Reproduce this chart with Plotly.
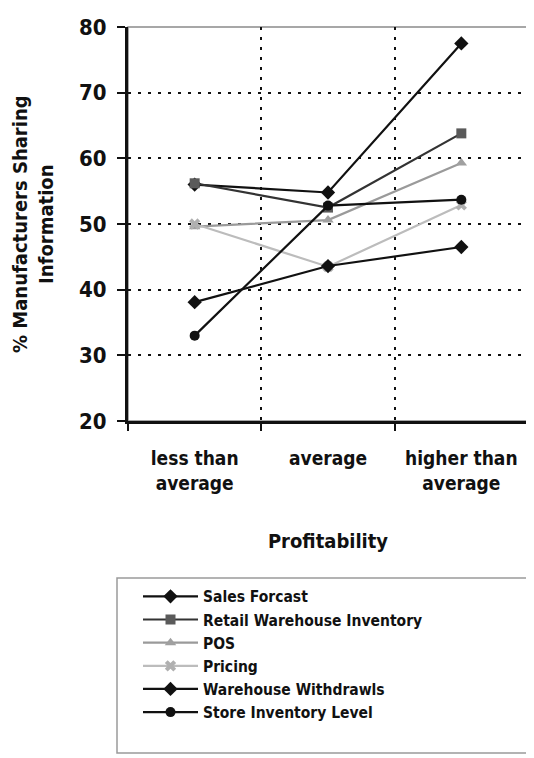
import plotly.graph_objects as go

# -----------------------------------
# Data
# -----------------------------------
categories = ["less than<br>average", "average", "higher than<br>average"]

sales_forcast = [56.0, 54.8, 77.5]
retail_warehouse = [56.2, 52.5, 63.8]
pos = [49.6, 50.6, 59.3]
pricing = [50.0, 43.5, 52.9]
warehouse_withdrawls = [38.1, 43.6, 46.5]
store_inventory = [33.0, 52.8, 53.7]

y_ticks = [20, 30, 40, 50, 60, 70, 80]

COND = "DejaVu Sans Condensed, DejaVu Sans, sans-serif"
INK = "#111111"

series = [
    ("Sales Forcast", sales_forcast, "diamond", "#111111", "#111111", 11),
    ("Retail Warehouse Inventory", retail_warehouse, "square", "#333333", "#5a5a5a", 10),
    ("POS", pos, "triangle-up", "#9a9a9a", "#a0a0a0", 10),
    ("Pricing", pricing, "x", "#bcbcbc", "#b0b0b0", 10),
    ("Warehouse Withdrawls", warehouse_withdrawls, "diamond", "#111111", "#111111", 11),
    ("Store Inventory Level", store_inventory, "circle", "#111111", "#111111", 10),
]

fig = go.Figure()
for name, vals, symbol, line_col, marker_col, size in series:
    fig.add_trace(go.Scatter(
        x=categories, y=vals,
        mode="lines+markers",
        name=name,
        line=dict(color=line_col, width=2.2),
        marker=dict(symbol=symbol, size=size, color=marker_col),
    ))

# thin grey frame round the plot area, and a box around the legend
fig.add_shape(type="rect", xref="paper", yref="paper", x0=0, x1=1, y0=0, y1=1,
              line=dict(color="#8a8a8a", width=1.5), layer="below")
fig.add_shape(type="rect", xref="paper", yref="paper",
              x0=-0.0275, x1=1.03, y0=-0.8426, y1=-0.3985,
              line=dict(color="#9a9a9a", width=1.5))

fig.add_annotation(
    text="<b>% Manufacturers Sharing<br>Information</b>",
    xref="paper", yref="paper", x=-0.2375, y=0.5,
    xanchor="center", yanchor="middle", textangle=-90,
    showarrow=False, font=dict(family=COND, size=20, color=INK),
)

fig.update_xaxes(
    type="category",
    range=[-0.5, 2.5],
    tickson="boundaries",
    ticks="outside", ticklen=7, tickwidth=2, tickcolor=INK,
    ticklabelstandoff=18,
    showline=True, linecolor=INK, linewidth=3,
    showgrid=True, gridcolor=INK, gridwidth=2, griddash="3px,7px",
    tickfont=dict(family=COND, size=19, color=INK, weight="bold"),
    title=dict(text="<b>Profitability</b>", standoff=42,
               font=dict(family=COND, size=20, color=INK)),
)
fig.update_yaxes(
    range=[20, 80],
    tickvals=y_ticks,
    ticks="outside", ticklen=8, tickwidth=2, tickcolor=INK,
    ticklabelstandoff=6,
    showline=True, linecolor=INK, linewidth=3,
    showgrid=True, gridcolor=INK, gridwidth=2, griddash="3px,7px",
    zeroline=False,
    tickfont=dict(family=COND, size=22, color=INK, weight="bold"),
)

# page body adds an 8px margin, so the figure is 8px smaller on each axis
fig.update_layout(
    width=526, height=750,
    margin=dict(l=120, r=6, t=19, b=337),
    paper_bgcolor="white", plot_bgcolor="white",
    showlegend=True,
    legend=dict(
        x=0.025, y=-0.403, xanchor="left", yanchor="top",
        bgcolor="rgba(0,0,0,0)", borderwidth=0,
        itemwidth=55, tracegroupgap=0,
        font=dict(family=COND, size=15.5, color=INK, weight="bold"),
    ),
)

fig.write_html("out.html")
